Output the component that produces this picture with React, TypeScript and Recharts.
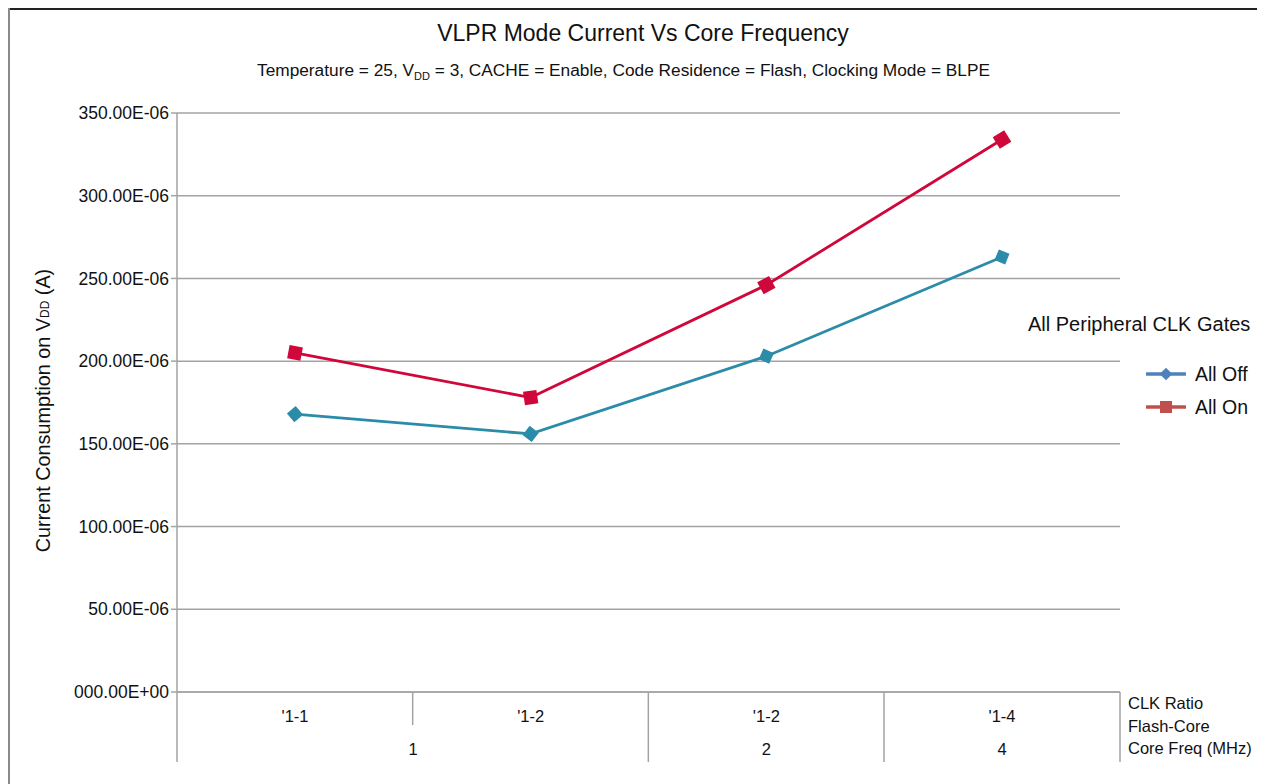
import React from "react";
import { LineChart, Line, XAxis, YAxis, CartesianGrid, Legend, Label } from "recharts";

const ratios = ["'1-1", "'1-2", "'1-2", "'1-4"];
const coreFreqs = ["1", "1", "2", "4"];
const allOff = [168e-6, 156e-6, 203e-6, 263e-6];
const allOn = [205e-6, 178e-6, 246e-6, 334e-6];
const yTicks = [0, 50e-6, 100e-6, 150e-6, 200e-6, 250e-6, 300e-6, 350e-6];
const axisRowLabels = ["CLK Ratio", "Flash-Core", "Core Freq (MHz)"];
const seriesNames = ["All Off", "All On"];

const data = ratios.map((r, i) => ({ ratio: r, freq: coreFreqs[i], off: allOff[i], on: allOn[i] }));

const FONT = "'Liberation Sans', Arial, Helvetica, sans-serif";
const GRID = "#a3a3a3";
const OFF_COLOR = "#2b8ca9";
const ON_COLOR = "#d0073b";
const HALF_BAND = 118; // half a category slot, used as axis padding

const fmtY = (v: number) => (v === 0 ? "000.00E+00" : `${(v * 1e6).toFixed(2)}E-06`);

// marker turned along the line direction, like the spreadsheet original
function makeDot(kind: "diamond" | "square", color: string) {
  return (props: any) => {
    const { cx, cy, index, points } = props;
    if (cx == null || cy == null) return null;
    let angle = 0;
    if (Array.isArray(points) && points.length > 1) {
      const a = points[Math.max(0, index - 1)];
      const b = points[Math.min(points.length - 1, index + 1)];
      angle = (Math.atan2(b.y - a.y, b.x - a.x) * 180) / Math.PI;
    }
    const s = kind === "square" ? 13.5 : 11.5;
    const rot = kind === "diamond" ? angle + 45 : angle;
    return (
      <rect
        key={`${kind}-${index}`}
        x={cx - s / 2}
        y={cy - s / 2}
        width={s}
        height={s}
        fill={color}
        transform={`rotate(${rot} ${cx} ${cy})`}
      />
    );
  };
}

function CategoryTick(props: any) {
  const { x, y, index } = props;
  const half = HALF_BAND;
  const left = x - half;
  const groupStart = index === 0 || coreFreqs[index] !== coreFreqs[index - 1];
  let span = 1;
  while (index + span < coreFreqs.length && coreFreqs[index + span] === coreFreqs[index]) span++;
  const isLast = index === ratios.length - 1;
  const txt = { fontFamily: FONT, fill: "#111" };
  return (
    <g>
      <text x={x} y={y + 30} textAnchor="middle" fontSize={16.5} {...txt}>
        {ratios[index]}
      </text>
      <line x1={left} x2={left} y1={y} y2={groupStart ? y + 70 : y + 33} stroke={GRID} strokeWidth={1.5} />
      {groupStart && (
        <text x={left + span * half} y={y + 63} textAnchor="middle" fontSize={16.5} {...txt}>
          {coreFreqs[index]}
        </text>
      )}
      {isLast && (
        <g>
          <line x1={x + half} x2={x + half} y1={y} y2={y + 70} stroke={GRID} strokeWidth={1.5} />
          {axisRowLabels.map((t, k) => (
            <text key={t} x={x + half + 8} y={y + 17 + k * 22.5} fontSize={16.5} {...txt}>
              {t}
            </text>
          ))}
        </g>
      )}
    </g>
  );
}

function YTitle(props: any) {
  const vb = props.viewBox || { x: 0, y: 105, height: 579 };
  const cx = 35;
  const cy = vb.y + vb.height / 2 + 8;
  return (
    <text
      x={cx}
      y={cy}
      transform={`rotate(-90 ${cx} ${cy})`}
      textAnchor="middle"
      dominantBaseline="central"
      fontSize={19.8}
      fontFamily={FONT}
      fill="#111"
    >
      Current Consumption on V
      <tspan fontSize={12} dy={2}>DD</tspan>
      <tspan dy={-2}> (A)</tspan>
    </text>
  );
}

function LegendMarker({ kind, color }: { kind: "diamond" | "square"; color: string }) {
  return (
    <svg width={40} height={14} style={{ position: "absolute", left: 118, top: -7 }}>
      <line x1={1} x2={39} y1={7} y2={7} stroke={color} strokeWidth={3.5} strokeLinecap="round" />
      {kind === "square" ? (
        <rect x={14} y={1} width={12} height={12} fill={color} />
      ) : (
        <rect x={15.5} y={2.5} width={9} height={9} fill={color} transform="rotate(45 20 7)" />
      )}
    </svg>
  );
}

function LegendBox() {
  const rows = [
    { name: seriesNames[0], kind: "diamond" as const, color: "#4f81bd", top: 61 },
    { name: seriesNames[1], kind: "square" as const, color: "#c0504d", top: 94 },
  ];
  return (
    <div style={{ position: "relative", width: 237, height: 110, fontFamily: FONT, color: "#111" }}>
      <div style={{ position: "absolute", left: 0, top: 0, fontSize: 20, lineHeight: "22px", whiteSpace: "nowrap" }}>
        All Peripheral CLK Gates
      </div>
      {rows.map((r) => (
        <div key={r.name} style={{ position: "absolute", left: 0, top: r.top, width: 237 }}>
          <LegendMarker kind={r.kind} color={r.color} />
          <div style={{ position: "absolute", left: 167, top: -11, fontSize: 19.5, lineHeight: "22px", whiteSpace: "nowrap" }}>
            {r.name}
          </div>
        </div>
      ))}
    </div>
  );
}

export default function App() {
  return (
    <div style={{ position: "relative", width: 1257, height: 776, background: "#fff", fontFamily: FONT }}>
      <div style={{ position: "absolute", left: 0, top: 0, width: 1257, height: 2, background: "#222" }} />
      <div style={{ position: "absolute", left: 0, top: 0, width: 2, height: 776, background: "#8a8a8a" }} />
      <div
        style={{
          position: "absolute", left: 0, top: 12, width: 1270, textAlign: "center",
          fontSize: 23, lineHeight: "26px", color: "#111",
        }}
      >
        VLPR Mode Current Vs Core Frequency
      </div>
      <div
        style={{
          position: "absolute", left: 0, top: 51, width: 1231, textAlign: "center",
          fontSize: 17.3, lineHeight: "22px", color: "#111",
        }}
      >
        Temperature = 25, V<sub style={{ fontSize: 11 }}>DD</sub> = 3, CACHE = Enable, Code Residence = Flash, Clocking Mode = BLPE
      </div>
      <LineChart
        width={1257}
        height={776}
        data={data}
        margin={{ top: 105, right: 145, left: 0, bottom: 0 }}
        style={{ position: "absolute", left: 0, top: 0 }}
      >
        <CartesianGrid vertical={false} stroke={GRID} strokeWidth={1.5} />
        <XAxis
          dataKey="ratio"
          padding={{ left: HALF_BAND, right: HALF_BAND }}
          height={92}
          interval={0}
          tickLine={false}
          tickSize={0}
          tickMargin={0}
          axisLine={{ stroke: GRID, strokeWidth: 1.5 }}
          tick={<CategoryTick />}
        />
        <YAxis
          domain={[0, 350e-6]}
          ticks={yTicks}
          interval={0}
          width={169}
          tickFormatter={fmtY}
          tickSize={6}
          tickMargin={2}
          tick={{ fontSize: 17.5, fill: "#111", fontFamily: FONT }}
          tickLine={{ stroke: GRID, strokeWidth: 1.5 }}
          axisLine={{ stroke: GRID, strokeWidth: 1.5 }}
        >
          <Label content={<YTitle />} />
        </YAxis>
        <Legend
          content={<LegendBox />}
          layout="horizontal"
          verticalAlign="middle"
          align="center"
          wrapperStyle={{ position: "absolute", left: 1020, top: 305, width: 237, height: 110 }}
        />
        <Line
          dataKey="off"
          name={seriesNames[0]}
          type="linear"
          stroke={OFF_COLOR}
          strokeWidth={2.8}
          dot={makeDot("diamond", OFF_COLOR)}
          activeDot={false}
          isAnimationActive={false}
        />
        <Line
          dataKey="on"
          name={seriesNames[1]}
          type="linear"
          stroke={ON_COLOR}
          strokeWidth={2.8}
          dot={makeDot("square", ON_COLOR)}
          activeDot={false}
          isAnimationActive={false}
        />
      </LineChart>
    </div>
  );
}
